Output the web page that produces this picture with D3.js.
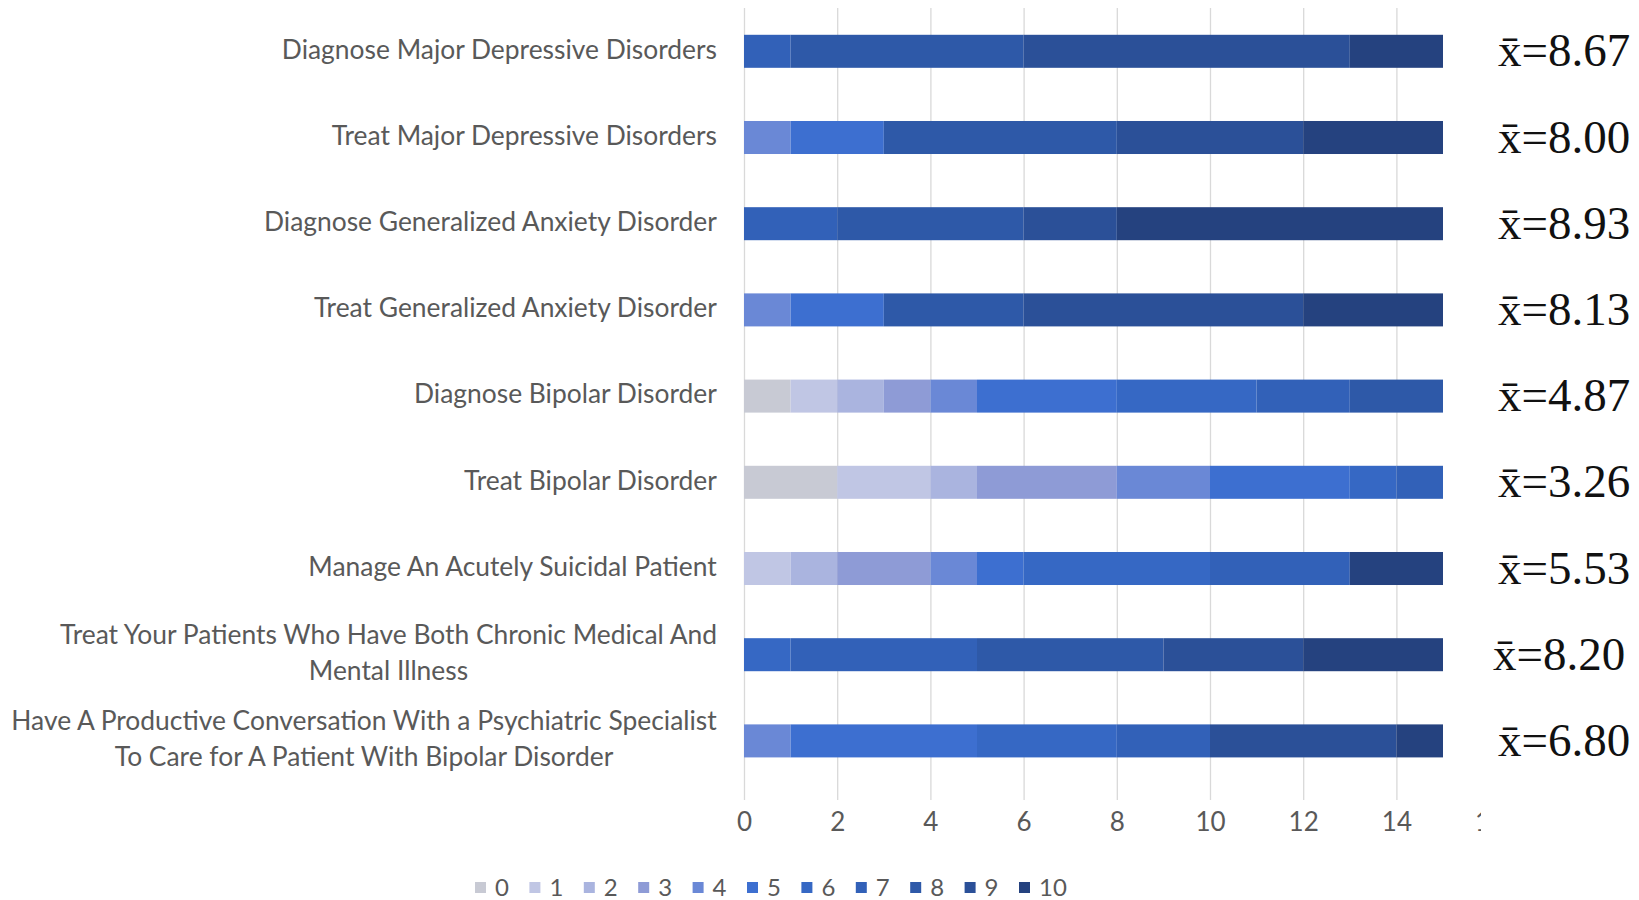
<!DOCTYPE html>
<html>
<head>
<meta charset="utf-8">
<script src="https://cdn.jsdelivr.net/npm/d3@7"></script>
<style>
  body { margin: 0; background: #fff; }
  svg { display: block; }
</style>
</head>
<body>
<div id="chart"></div>
<script>
// categories, top to bottom ("\n" = line break)
var categories = [
  'Diagnose Major Depressive Disorders',
  'Treat Major Depressive Disorders',
  'Diagnose Generalized Anxiety Disorder',
  'Treat Generalized Anxiety Disorder',
  'Diagnose Bipolar Disorder',
  'Treat Bipolar Disorder',
  'Manage An Acutely Suicidal Patient',
  'Treat Your Patients Who Have Both Chronic Medical And\nMental Illness',
  'Have A Productive Conversation With a Psychiatric Specialist\nTo Care for A Patient With Bipolar Disorder'
];
var means = ['8.67', '8.00', '8.93', '8.13', '4.87', '3.26', '5.53', '8.20', '6.80'];
var ratings = ['0', '1', '2', '3', '4', '5', '6', '7', '8', '9', '10'];
// number of respondents per rating 0..10, one row per category
var counts = [
  [0, 0, 0, 0, 0, 0, 0, 1, 5, 7, 2],
  [0, 0, 0, 0, 1, 2, 0, 0, 5, 4, 3],
  [0, 0, 0, 0, 0, 0, 0, 2, 4, 2, 7],
  [0, 0, 0, 0, 1, 2, 0, 0, 3, 6, 3],
  [1, 1, 1, 1, 1, 3, 3, 2, 2, 0, 0],
  [2, 2, 1, 3, 2, 3, 1, 1, 0, 0, 0],
  [0, 1, 1, 2, 1, 1, 4, 3, 0, 0, 2],
  [0, 0, 0, 0, 0, 0, 1, 4, 4, 3, 3],
  [0, 0, 0, 0, 1, 4, 3, 2, 0, 4, 1]
];
var xTicks = [0, 2, 4, 6, 8, 10, 12, 14, 16];
var colors = ['#c8cad4', '#c0c6e4', '#aab4df', '#8e9bd6', '#6a88d6', '#3d6fd0',
  '#3668c4', '#3261b8', '#2e59a8', '#2b5098', '#25427f'];

width = 1639;
height = 900;

// build table for d3.stack
var data = categories.map(function (c, i) {
  var row = { name: c, mean: means[i] };
  ratings.forEach(function (r, j) { row[r] = counts[i][j]; });
  return row;
});

var series = d3.stack().keys(ratings)(data);

x = d3.scaleLinear().domain([0, 16]).range([744, 1489.6]);

y = d3.scaleBand()
  .domain(categories)
  .range([8.2, 8.2 + 9 * 86.2])
  .paddingInner(0.617)
  .paddingOuter(0.3085);

color = d3.scaleOrdinal().domain(ratings).range(colors);

var svg = d3.select('#chart').append('svg')
  .attr('width', width)
  .attr('height', height)
  .attr('viewBox', [0, 0, width, height]);

// gridlines
svg.append('g')
  .attr('transform', 'translate(0,800)')
  .call(d3.axisBottom(x).tickValues(xTicks).tickSize(-792).tickFormat(''))
  .call(function (g) { g.select('.domain').remove(); })
  .call(function (g) { g.selectAll('line').attr('stroke', '#d9d9d9').attr('stroke-width', 1.3); });

// tick labels
svg.append('g')
  .attr('transform', 'translate(0,810)')
  .call(d3.axisBottom(x).tickValues(xTicks).tickSize(0))
  .call(function (g) { g.select('.domain').remove(); })
  .call(function (g) {
    g.selectAll('text')
      .attr('fill', '#595959')
      .attr('font-family', 'Lato, sans-serif')
      .attr('font-size', 26);
  });

// bars
svg.append('g')
  .selectAll('g')
  .data(series)
  .join('g')
  .attr('fill', function (d) { return color(d.key); })
  .selectAll('rect')
  .data(function (d) { return d; })
  .join('rect')
  .attr('x', function (d) { return x(d[0]); })
  .attr('y', function (d) { return y(d.data.name); })
  .attr('width', function (d) { return x(d[1]) - x(d[0]); })
  .attr('height', y.bandwidth());

// category labels: lines centred on each other, block right-aligned at 717
var lineH = 36.6;
svg.append('g')
  .selectAll('g')
  .data(data)
  .join('g')
  .each(function (d) {
    var g = d3.select(this);
    var lines = d.name.split('\n');
    var cy = y(d.name) + y.bandwidth() / 2 - 2 - (lines.length - 1) * lineH / 2;
    var t = g.append('text')
      .attr('fill', '#595959')
      .attr('font-family', 'Lato, sans-serif')
      .attr('font-size', 26.4)
      .attr('text-anchor', 'middle');
    lines.forEach(function (l, k) {
      t.append('tspan').attr('x', 0).attr('y', cy + k * lineH).attr('dy', '0.35em').text(l);
    });
    var w = t.node().getBBox().width;
    g.attr('transform', 'translate(' + (717 - w / 2) + ',0)');
  });

// mask the right edge of the plot
svg.append('rect')
  .attr('x', 1481).attr('y', 0)
  .attr('width', width - 1481).attr('height', height)
  .attr('fill', '#fff');

// mean labels
svg.append('g')
  .selectAll('text')
  .data(data)
  .join('text')
  .attr('x', function (d, i) { return i === 7 ? 1493 : 1498; })
  .attr('y', function (d) { return y(d.name) + y.bandwidth() / 2 + 15; })
  .attr('font-family', '"Liberation Serif", "Times New Roman", serif')
  .attr('font-size', 47)
  .attr('fill', '#111')
  .text(function (d) { return 'x\u0304=' + d.mean; });

// legend
var legend = svg.append('g')
  .selectAll('g')
  .data(ratings)
  .join('g')
  .attr('transform', function (d, i) { return 'translate(' + (475 + i * 54.4) + ',882)'; });

legend.append('rect')
  .attr('width', 11).attr('height', 11)
  .attr('fill', function (d) { return color(d); });

legend.append('text')
  .attr('x', 20).attr('y', 6).attr('dy', '0.35em')
  .attr('fill', '#595959')
  .attr('font-family', 'Lato, sans-serif')
  .attr('font-size', 24)
  .text(function (d) { return d; });
</script>
</body>
</html>
